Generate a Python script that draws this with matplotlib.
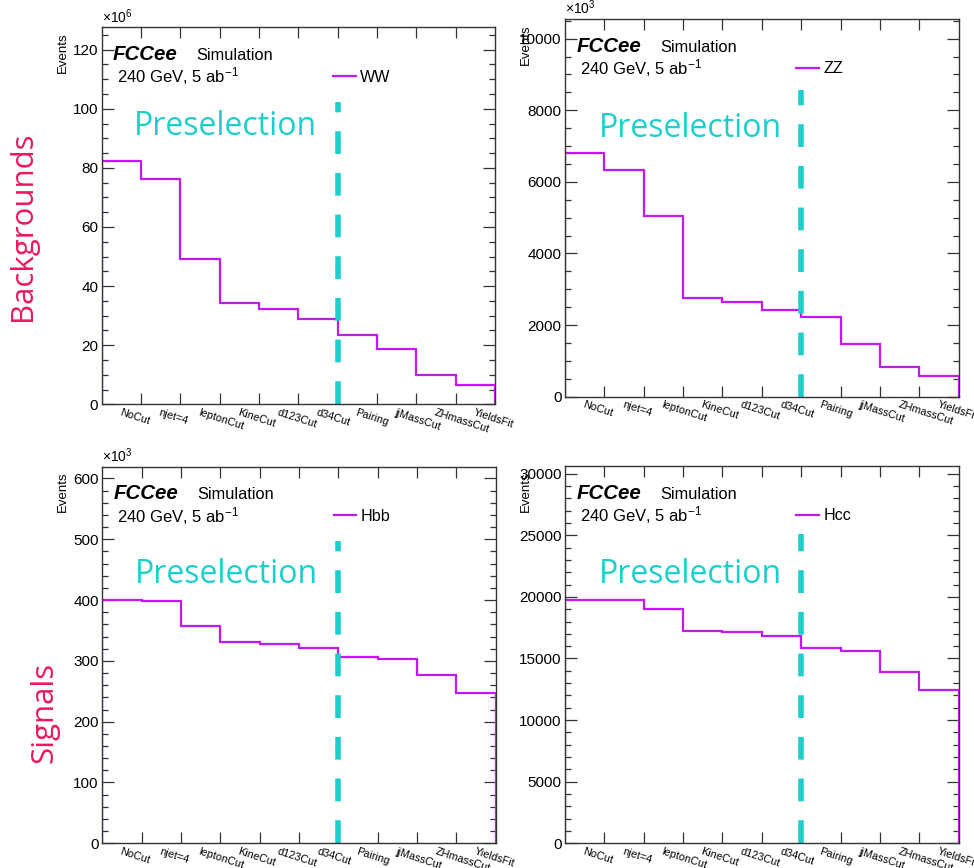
import numpy as np
import matplotlib
matplotlib.use("Agg")
import matplotlib.pyplot as plt
from matplotlib.ticker import MultipleLocator

plt.rcParams['font.family'] = ['Liberation Sans', 'DejaVu Sans']
plt.rcParams['mathtext.default'] = 'regular'

# ---------------- data ----------------
cuts = ["NoCut", "njet=4", "leptonCut", "KineCut", "d123Cut", "d34Cut",
        "Pairing", "jjMassCut", "ZHmassCut", "YieldsFit"]

ww_events = [82.3e6, 76.2e6, 49.0e6, 34.4e6, 32.2e6, 28.8e6, 23.3e6, 18.8e6, 9.8e6, 6.5e6]
zz_events = [6806e3, 6324e3, 5060e3, 2762e3, 2650e3, 2410e3, 2232e3, 1470e3, 829e3, 578e3]
hbb_events = [399.5e3, 398.9e3, 356.8e3, 331.0e3, 327.3e3, 321.8e3, 306.5e3, 302.7e3, 277.0e3, 247.5e3]
hcc_events = [19757, 19750, 19027, 17243, 17113, 16837, 15815, 15621, 13893, 12433]

samples = ["WW", "ZZ", "Hbb", "Hcc"]
exponents = [6, 3, 3, 0]
major_steps = [20, 2000, 100, 5000]
minor_steps = [5, 500, 20, 1000]
preselection_after = 6  # boundary index after d34Cut

# ---------------- layout ----------------
W, H = 974, 868
fig = plt.figure(figsize=(W / 100, H / 100), dpi=100)

def rect(l, r, t, b):
    return [l / W, 1 - b / H, (r - l) / W, (b - t) / H]

rects = [rect(101.7, 495.0, 27.3, 404.3),
         rect(565.0, 958.7, 19.0, 396.7),
         rect(102.3, 495.7, 466.7, 843.3),
         rect(565.0, 958.7, 466.0, 843.3)]
presel_pos = [(0.082, 0.714), (0.086, 0.688), (0.082, 0.690), (0.086, 0.689)]
dash_top = [0.802, 0.812, 0.803, 0.819]

hist_color = '#c318f0'
cyan = '#1ccfcc'
pink = '#ea1a5f'

all_data = [ww_events, zz_events, hbb_events, hcc_events]
edges = np.arange(len(cuts) + 1)
centers = edges[:-1] + 0.5

for i, (name, vals) in enumerate(zip(samples, all_data)):
    ax = fig.add_axes(rects[i])
    scale = 10.0 ** exponents[i]
    v = np.array(vals) / scale
    ax.stairs(v, edges, color=hist_color, linewidth=1.6, baseline=0, label=name, zorder=3)
    ax.set_xlim(0, len(cuts))
    ax.set_ylim(0, 1.55 * v.max())

    # ticks
    ax.set_xticks(edges[1:-1])
    ax.set_xticklabels([])
    ax.set_xticks(centers, cuts, minor=True)
    ax.tick_params(axis='x', which='major', direction='in', length=8, width=0.9,
                   top=True, bottom=True, color='#333333')
    ax.tick_params(axis='x', which='minor', length=0, labelsize=7.8, pad=2)
    for lab in ax.get_xticklabels(minor=True):
        lab.set_rotation(-18)
        lab.set_ha('left')
        lab.set_va('top')
        lab.set_rotation_mode('anchor')
    ax.yaxis.set_major_locator(MultipleLocator(major_steps[i]))
    ax.yaxis.set_minor_locator(MultipleLocator(minor_steps[i]))
    ax.tick_params(axis='y', which='major', direction='in', length=8.5, width=0.9,
                   left=True, right=True, labelsize=11, pad=2.5, color='#333333')
    ax.tick_params(axis='y', which='minor', direction='in', length=4.3, width=0.9,
                   left=True, right=True, color='#333333')
    for sp in ax.spines.values():
        sp.set_color('#333333')
        sp.set_linewidth(1.0)
    ax.spines['left'].set_zorder(5)
    ax.spines['bottom'].set_zorder(5)

    # y label (ROOT style, at top)
    ax.set_ylabel('Events', loc='top', fontsize=9.5)
    ax.yaxis.set_label_coords(-0.084, 0.987)

    if exponents[i] > 0:
        ax.text(0.0, 1.004, '×10$^{%d}$' % exponents[i], transform=ax.transAxes,
                fontsize=10, ha='left', va='bottom')

    ax.text(0.029, 0.913, 'FCCee', transform=ax.transAxes, fontsize=14.8,
            fontweight='bold', fontstyle='italic', ha='left', va='baseline')
    ax.text(0.2415, 0.913, 'Simulation', transform=ax.transAxes, fontsize=11.8,
            ha='left', va='baseline')
    ax.text(0.038, 0.853, '240 GeV, 5 ab$^{-1}$', transform=ax.transAxes, fontsize=12,
            ha='left', va='baseline')

    ax.legend(loc='center left', bbox_to_anchor=(0.588, 0.868), frameon=False,
              fontsize=11.6, handlelength=1.4, handletextpad=0.3, borderpad=0,
              borderaxespad=0)

    ax.axvline(edges[preselection_after], ymin=0, ymax=dash_top[i], color=cyan,
               linewidth=4.0, dashes=(4.1, 3.4), zorder=4)
    ax.text(presel_pos[i][0], presel_pos[i][1], 'Preselection', transform=ax.transAxes,
            fontsize=23, color=cyan, family='Open Sans', ha='left', va='baseline')

fig.text(23 / W, 1 - 226 / H, 'Backgrounds', rotation=90, fontsize=22.5, color=pink,
         family='Open Sans', ha='center', va='center')
fig.text(44 / W, 1 - 712 / H, 'Signals', rotation=90, fontsize=22.5, color=pink,
         family='Open Sans', ha='center', va='center')

fig.savefig('out.png', dpi=100)
